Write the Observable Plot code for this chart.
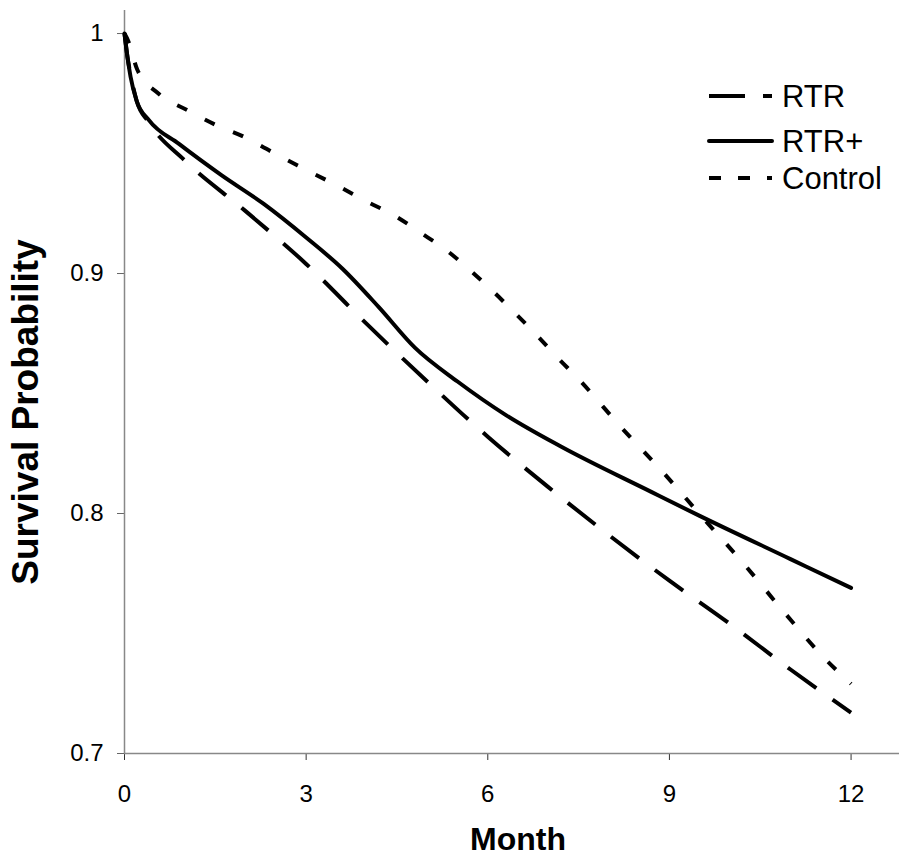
<!DOCTYPE html>
<html>
<head>
<meta charset="utf-8">
<script src="https://cdn.jsdelivr.net/npm/d3@7"></script>
<script src="https://cdn.jsdelivr.net/npm/@observablehq/plot@0.6"></script>
<style>
  html, body { margin: 0; padding: 0; background: white; }
  #chart { width: 901px; height: 855px; }
</style>
</head>
<body>
<div id="chart"></div>
<script>
// Series names
const seriesNames = ["RTR", "RTR+", "Control"];

// RTR (long dash)
const rtrMonths = [0, 0.05, 0.1, 0.2, 0.4, 1, 2, 3, 4, 5, 6, 7, 8, 9, 10, 11, 12];
const rtrValues = [1, 0.99, 0.983, 0.972, 0.963, 0.947, 0.926, 0.904, 0.879, 0.855, 0.832, 0.811, 0.791, 0.772, 0.754, 0.735, 0.717];

// RTR+ (solid)
const rtrPlusMonths = [0, 0.05, 0.1, 0.2, 0.4, 0.9, 1.6, 2.3, 3.0, 3.6, 4.2, 4.8, 5.5, 6.3, 7.2, 8.7, 9.5, 11, 12];
const rtrPlusValues = [1, 0.99, 0.982, 0.972, 0.964, 0.954, 0.941, 0.929, 0.915, 0.902, 0.886, 0.869, 0.855, 0.841, 0.828, 0.809, 0.799, 0.781, 0.769];

// Control (short dash)
const controlMonths = [0, 0.06, 0.21, 0.56, 1.04, 1.5, 1.97, 2.41, 2.86, 3.56, 4.0, 4.47, 4.89, 5.3, 5.68, 6.07, 6.43, 6.82, 7.15, 7.5, 8.2, 8.9, 9.56, 10.23, 10.89, 11.55, 12];
const controlValues = [1, 0.997, 0.985, 0.975, 0.968, 0.962, 0.957, 0.951, 0.945, 0.936, 0.930, 0.924, 0.917, 0.910, 0.902, 0.893, 0.884, 0.874, 0.865, 0.856, 0.836, 0.817, 0.798, 0.779, 0.759, 0.740, 0.729];

// Axis ticks
const xTicks = [0, 3, 6, 9, 12];
const yTicks = [0.7, 0.8, 0.9, 1];

const toRows = (ms, vs) => ms.map((m, i) => ({month: m, value: vs[i]}));
const rtr = toRows(rtrMonths, rtrValues);
const rtrPlus = toRows(rtrPlusMonths, rtrPlusValues);
const control = toRows(controlMonths, controlValues);

const styles = {
  "RTR": {dash: "35,20", legendDash: "36,18", cap: "butt"},
  "RTR+": {dash: null, legendDash: null, cap: "round"},
  "Control": {dash: "11,20", legendDash: "12,17", cap: "butt"}
};

const chart = Plot.plot({
  width: 901,
  height: 855,
  marginLeft: 124,
  marginRight: 2,
  marginTop: 10,
  marginBottom: 102,
  style: {fontFamily: "'Liberation Sans', Arial, sans-serif", fontSize: "24px", color: "black", background: "white"},
  x: {domain: [0, 12.8]},
  y: {domain: [0.7, 1.0096]},
  marks: [
    Plot.axisX({ticks: xTicks, tickSize: 7, tickPadding: 24, label: null, tickFormat: d => String(d), fontSize: 24, stroke: "#333"}),
    Plot.axisY({ticks: yTicks, tickSize: 7, tickPadding: 14, label: null, tickFormat: d => d === 1 ? "1" : d.toFixed(1), fontSize: 24, stroke: "#666"}),
    Plot.ruleX([0], {stroke: "#888", strokeWidth: 1.5}),
    Plot.ruleY([0.7], {stroke: "#888", strokeWidth: 1.5}),
    Plot.line(control, {x: "month", y: "value", curve: "monotone-x", stroke: "black", strokeWidth: 4, strokeDasharray: styles["Control"].dash, strokeLinecap: "butt"}),
    Plot.line(rtr, {x: "month", y: "value", curve: "monotone-x", stroke: "black", strokeWidth: 4, strokeDasharray: styles["RTR"].dash, strokeLinecap: "butt"}),
    Plot.line(rtrPlus, {x: "month", y: "value", curve: "monotone-x", stroke: "black", strokeWidth: 4, strokeLinecap: "round", strokeLinejoin: "round"}),
    Plot.text(["Month"], {frameAnchor: "bottom", dx: 6, dy: 96, lineAnchor: "bottom", textAnchor: "middle", fontWeight: "bold", fontSize: 32}),
    Plot.text(["Survival Probability"], {frameAnchor: "left", rotate: -90, textAnchor: "middle", dx: -87, dy: 30, lineAnchor: "bottom", fontWeight: "bold", fontSize: 37})
  ]
});

document.getElementById("chart").appendChild(chart);

// Legend (inside plot area, top right)
const svg = d3.select(chart);
const leg = svg.append("g");
const rowsY = [96, 141, 178];
seriesNames.forEach((name, i) => {
  const s = styles[name];
  const y = rowsY[i];
  leg.append("line")
    .attr("x1", 709).attr("x2", 772).attr("y1", y).attr("y2", y)
    .attr("stroke", "black").attr("stroke-width", 4)
    .attr("stroke-linecap", s.cap)
    .attr("stroke-dasharray", s.legendDash);
  leg.append("text")
    .attr("x", 782).attr("y", y).attr("dy", "0.36em")
    .attr("text-anchor", "start")
    .attr("fill", "black")
    .style("font-family", "'Liberation Sans', Arial, sans-serif")
    .style("font-size", "31px")
    .style("text-anchor", "start")
    .text(name);
});
</script>
</body>
</html>
